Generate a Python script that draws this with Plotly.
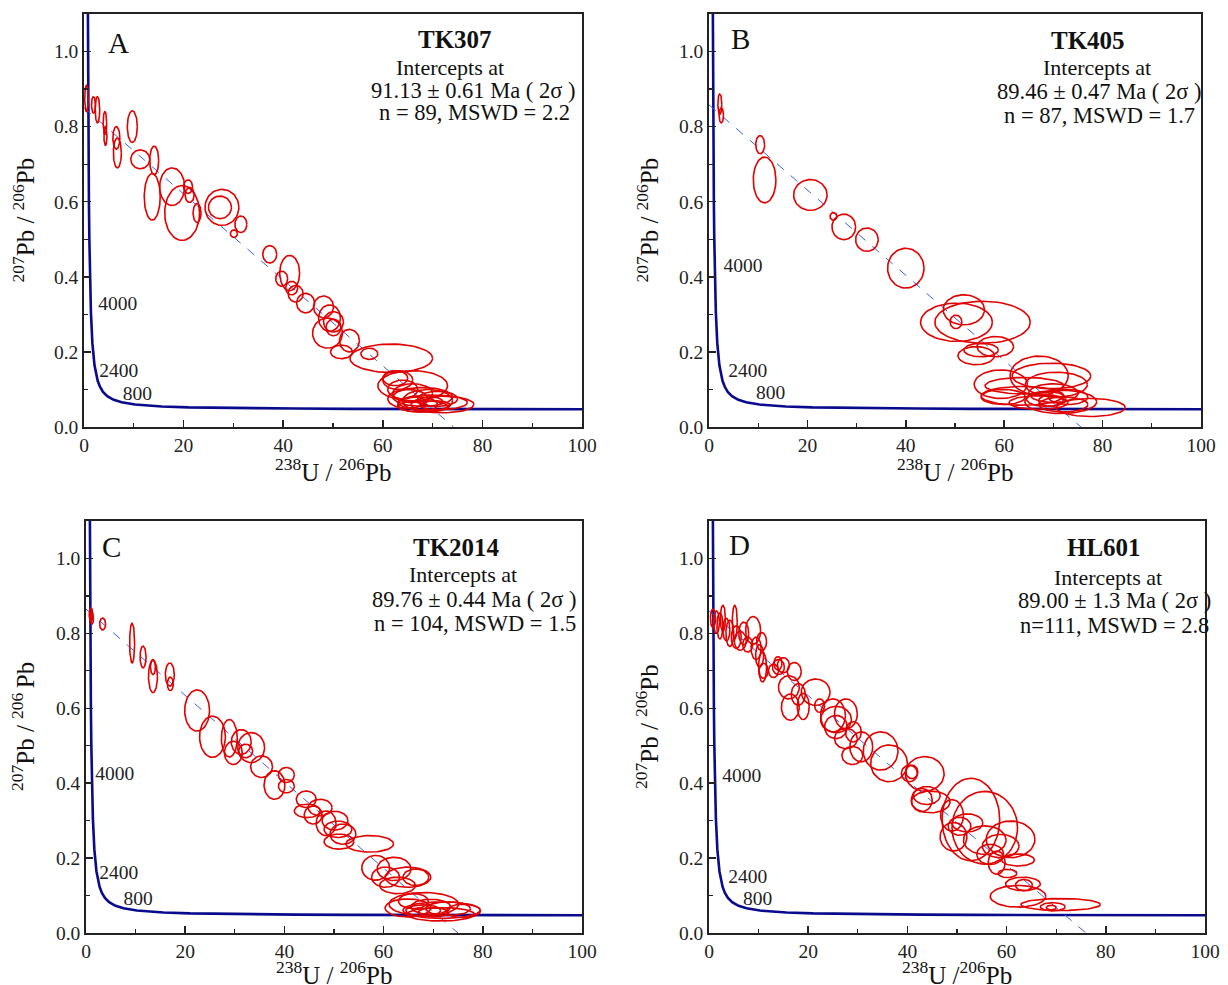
import numpy as np
import plotly.graph_objects as go

W, H = 1228, 985
FONT = "Liberation Serif"

# ---------------- data ----------------
# Tera-Wasserburg concordia (238U/206Pb, 207Pb/206Pb)
conc_x = [0.7424, 0.7628, 0.7841, 0.8062, 0.853, 0.9045, 0.9903, 1.0714, 1.163, 1.2673,
          1.3868, 1.6874, 2.111, 2.7487, 3.2062, 3.8168, 4.6733, 5.9595, 7.568, 10.252,
          15.62, 20.99, 31.735, 42.48, 53.22, 63.97, 80.08, 100.23]
conc_y = [1.207, 1.123, 1.046, 0.9735, 0.845, 0.7347, 0.5967, 0.503, 0.425, 0.360,
          0.3059, 0.2226, 0.1643, 0.1230, 0.1071, 0.0936, 0.0822, 0.0725, 0.0658, 0.0599,
          0.0547, 0.0523, 0.0501, 0.0491, 0.0484, 0.0480, 0.0476, 0.0473]
age_labels = ["4000", "2400", "800"]

# Panel A (TK307): ellipse centres and half-sizes (2 sigma)
a_x = [0.5, 1.9, 2.7, 4.2, 4.3, 6.5, 6.7, 9.7, 11.3, 14.1, 13.7, 17.7, 19.7, 20.9, 21.2, 22.7,
       27.7, 27.3, 31.5, 30.1, 37.3, 41.3, 39.7, 41.7, 42.5, 44.5, 48.1, 49.3, 50.1, 50.1, 48.9,
       53.3, 51.7, 57.3, 61.7, 62.5, 63.0, 66.0, 64.0, 66.0, 65.0, 68.0, 69.0, 70.0, 71.0, 67.0,
       68.0, 72.0, 70.5, 69.5]
a_y = [0.875, 0.858, 0.845, 0.81, 0.775, 0.77, 0.73, 0.80, 0.713, 0.71, 0.613, 0.64, 0.57, 0.64,
       0.618, 0.57, 0.585, 0.585, 0.54, 0.515, 0.46, 0.41, 0.395, 0.37, 0.355, 0.33, 0.32, 0.29,
       0.28, 0.265, 0.25, 0.23, 0.2, 0.195, 0.183, 0.13, 0.125, 0.11, 0.10, 0.09, 0.075, 0.08,
       0.07, 0.065, 0.075, 0.06, 0.055, 0.06, 0.058, 0.068]
a_w = [0.35, 0.4, 0.45, 0.35, 0.3, 0.7, 0.8, 1.0, 1.9, 0.9, 1.6, 2.5, 3.5, 0.9, 0.9, 0.8, 3.4, 2.3,
       1.2, 0.7, 1.4, 2.0, 1.2, 1.2, 1.5, 1.8, 2.0, 2.2, 2.0, 1.5, 3.0, 2.0, 2.2, 1.7, 8.3, 2.5,
       3.0, 7.0, 3.0, 4.0, 4.0, 6.0, 5.0, 7.0, 4.0, 4.0, 5.0, 6.3, 3.0, 2.5]
a_h = [0.035, 0.022, 0.035, 0.03, 0.025, 0.03, 0.04, 0.042, 0.025, 0.038, 0.062, 0.05, 0.073,
       0.018, 0.02, 0.025, 0.048, 0.03, 0.022, 0.01, 0.023, 0.047, 0.02, 0.018, 0.022, 0.026,
       0.029, 0.035, 0.027, 0.022, 0.04, 0.03, 0.018, 0.015, 0.038, 0.02, 0.025, 0.04, 0.025,
       0.025, 0.025, 0.025, 0.03, 0.02, 0.02, 0.02, 0.015, 0.022, 0.012, 0.012]

# Panel B (TK405)
b_x = [2.2, 2.5, 10.4, 11.3, 20.6, 25.3, 27.4, 32.1, 40.0, 51.8, 50.2, 50.3, 55.6, 58.2, 55.3,
       54.3, 67.1, 69.6, 59.3, 64.1, 70.6, 63.7, 77.6, 71.5, 59.8, 68.5, 70.0, 72.0, 67.0, 69.5, 73.0]
b_y = [0.86, 0.83, 0.752, 0.658, 0.618, 0.561, 0.533, 0.499, 0.423, 0.312, 0.28, 0.279, 0.279,
       0.214, 0.205, 0.19, 0.137, 0.136, 0.114, 0.11, 0.113, 0.083, 0.052, 0.067, 0.08, 0.075,
       0.09, 0.06, 0.065, 0.07, 0.08]
b_w = [0.4, 0.45, 0.9, 2.3, 3.4, 0.7, 2.4, 2.3, 3.7, 4.2, 1.2, 7.3, 9.7, 3.7, 3.5, 3.7, 5.9, 8.0,
       5.4, 8.0, 6.3, 8.4, 7.0, 7.3, 4.5, 4.0, 5.0, 5.0, 6.0, 2.5, 4.0]
b_h = [0.027, 0.02, 0.024, 0.061, 0.041, 0.01, 0.034, 0.031, 0.053, 0.04, 0.018, 0.051, 0.056,
       0.027, 0.018, 0.024, 0.052, 0.034, 0.038, 0.022, 0.033, 0.025, 0.024, 0.031, 0.02, 0.02,
       0.025, 0.02, 0.018, 0.015, 0.02]

# Panel C (TK2014)
c_x = [1.0, 1.2, 1.1, 3.35, 9.3, 11.5, 13.5, 13.5, 16.9, 17.0, 22.4, 25.5, 28.9, 29.7, 31.3, 33.3,
       32.2, 35.4, 38.0, 40.4, 40.4, 44.4, 44.6, 47.2, 45.8, 48.4, 50.2, 50.8, 51.8, 51.0, 57.2,
       58.4, 62.1, 60.4, 64.9, 62.8, 66.5, 68.1, 71.7, 64.9, 76.1, 71.5, 66.0, 69.5, 73.0, 70.0, 68.0]
c_y = [0.85, 0.84, 0.846, 0.825, 0.774, 0.737, 0.71, 0.685, 0.69, 0.665, 0.594, 0.524, 0.52,
       0.481, 0.51, 0.495, 0.486, 0.444, 0.395, 0.422, 0.392, 0.357, 0.326, 0.335, 0.315, 0.293,
       0.30, 0.277, 0.264, 0.244, 0.238, 0.174, 0.171, 0.149, 0.149, 0.127, 0.149, 0.077, 0.061,
       0.067, 0.059, 0.05, 0.085, 0.07, 0.065, 0.055, 0.06]
c_w = [0.35, 0.3, 0.2, 0.6, 0.5, 0.6, 0.5, 0.9, 0.9, 0.6, 2.5, 2.6, 1.6, 1.8, 2.0, 2.7, 1.4, 2.2,
       2.1, 1.6, 1.6, 2.0, 2.6, 2.4, 1.8, 2.0, 2.6, 2.8, 2.6, 3.0, 4.8, 2.8, 3.4, 2.8, 4.6, 3.6,
       2.6, 7.0, 7.8, 4.6, 3.4, 6.8, 3.0, 4.0, 4.5, 3.0, 3.5]
c_h = [0.018, 0.015, 0.012, 0.016, 0.053, 0.029, 0.02, 0.043, 0.031, 0.018, 0.055, 0.055, 0.05,
       0.031, 0.033, 0.04, 0.018, 0.029, 0.038, 0.02, 0.018, 0.022, 0.018, 0.022, 0.024, 0.033,
       0.025, 0.022, 0.027, 0.02, 0.022, 0.033, 0.031, 0.027, 0.027, 0.022, 0.022, 0.031, 0.022,
       0.024, 0.018, 0.018, 0.02, 0.02, 0.018, 0.012, 0.015]

# Panel D (HL601)
d_x = [0.8, 1.5, 2.2, 2.8, 3.5, 4.2, 5.2, 5.5, 6.3, 7.0, 7.8, 8.9, 9.5, 10.6, 10.2, 10.8, 11.0,
       13.9, 14.0, 15.0, 13.0, 17.2, 16.1, 16.4, 18.0, 19.0, 21.5, 22.3, 25.0, 25.6, 27.6, 25.6,
       27.6, 29.1, 30.7, 28.9, 34.6, 36.3, 40.4, 40.9, 43.5, 43.9, 44.7, 42.9, 49.0, 52.8, 55.6,
       49.3, 50.5, 52.1, 55.6, 60.8, 58.8, 56.7, 62.3, 58.0, 60.2, 63.3, 63.5, 62.3, 70.9, 69.3, 69.0]
d_y = [0.84, 0.83, 0.82, 0.84, 0.81, 0.80, 0.83, 0.79, 0.78, 0.80, 0.77, 0.808, 0.76, 0.778,
       0.74, 0.71, 0.70, 0.72, 0.71, 0.715, 0.70, 0.698, 0.656, 0.603, 0.637, 0.605, 0.643, 0.607,
       0.581, 0.57, 0.585, 0.55, 0.519, 0.537, 0.497, 0.474, 0.486, 0.453, 0.426, 0.43, 0.425,
       0.367, 0.35, 0.355, 0.314, 0.303, 0.281, 0.257, 0.285, 0.294, 0.248, 0.25, 0.232, 0.21,
       0.195, 0.188, 0.159, 0.131, 0.128, 0.098, 0.076, 0.07, 0.068]
d_w = [0.5, 0.6, 0.6, 0.5, 0.7, 0.8, 0.5, 1.0, 1.2, 1.0, 1.0, 1.5, 1.0, 1.0, 0.8, 0.8, 0.9, 0.8,
       1.2, 1.2, 1.0, 1.4, 2.1, 1.8, 1.4, 1.2, 2.9, 1.0, 2.5, 3.1, 2.3, 2.3, 2.3, 1.6, 2.3, 2.1,
       3.5, 3.7, 1.6, 1.2, 3.9, 2.7, 3.9, 2.1, 2.3, 5.8, 6.6, 2.7, 2.3, 3.1, 4.3, 4.9, 3.7, 2.7,
       3.3, 1.7, 1.9, 3.5, 1.7, 5.6, 8.0, 2.5, 1.0]
d_h = [0.025, 0.03, 0.035, 0.035, 0.03, 0.035, 0.045, 0.03, 0.025, 0.03, 0.02, 0.037, 0.03,
       0.024, 0.03, 0.04, 0.02, 0.018, 0.02, 0.02, 0.018, 0.024, 0.031, 0.035, 0.029, 0.035,
       0.035, 0.018, 0.044, 0.035, 0.04, 0.031, 0.027, 0.027, 0.04, 0.024, 0.051, 0.049, 0.022,
       0.018, 0.046, 0.024, 0.029, 0.031, 0.042, 0.11, 0.097, 0.038, 0.024, 0.024, 0.038, 0.049,
       0.031, 0.027, 0.016, 0.031, 0.011, 0.018, 0.015, 0.029, 0.016, 0.011, 0.006]

# Discordia: 207/206 intercept at x=0 and 238/206 value where it reaches 0
disc_y0 = [0.85, 0.858, 0.865, 0.86]
disc_x0 = [74.2, 75.6, 75.0, 76.0]

samples = ["TK307", "TK405", "TK2014", "HL601"]
letters = ["A", "B", "C", "D"]
ages = ["91.13 ± 0.61 Ma ( 2σ )", "89.46 ± 0.47 Ma ( 2σ )",
        "89.76 ± 0.44 Ma ( 2σ )", "89.00 ± 1.3 Ma ( 2σ )"]
stats = ["n = 89, MSWD = 2.2", "n = 87, MSWD = 1.7", "n = 104, MSWD = 1.5", "n=111, MSWD = 2.8"]
ytitles = ["<sup>207</sup>Pb / <sup>206</sup>Pb", "<sup>207</sup>Pb / <sup>206</sup>Pb",
           "<sup>207</sup>Pb / <sup>206 </sup>Pb", "<sup>207</sup>Pb / <sup>206</sup>Pb"]
xtitles = ["<sup>238</sup>U / <sup>206</sup>Pb", "<sup>238</sup>U / <sup>206</sup>Pb",
           "<sup>238</sup>U / <sup>206</sup>Pb", "<sup>238</sup>U /<sup>206</sup>Pb"]
# age-label positions (data coords) per panel: [4000, 2400, 800]
lab_x = [[6.8, 7.0, 10.7], [6.9, 7.9, 12.5], [5.8, 6.6, 10.5], [6.6, 7.8, 9.8]]
lab_y = [[0.325, 0.147, 0.085], [0.427, 0.147, 0.088], [0.421, 0.157, 0.088], [0.416, 0.147, 0.088]]
x_ticks = [0, 20, 40, 60, 80, 100]
y_ticks = [0.0, 0.2, 0.4, 0.6, 0.8, 1.0]

panels = [(a_x, a_y, a_w, a_h), (b_x, b_y, b_w, b_h), (c_x, c_y, c_w, c_h), (d_x, d_y, d_w, d_h)]

# ---------------- layout geometry (pixels) ----------------
boxes = [(84, 582, 14, 427), (709, 1201, 14, 427), (86, 582, 521, 933), (709, 1205, 521, 933)]
txt_pos = [
    [(455, 39), (450, 67), (473, 90), (474, 113)],
    [(1088, 41), (1097, 68), (1099, 92), (1099, 115)],
    [(456, 547), (463, 574), (474, 599), (475, 623)],
    [(1104, 547), (1108, 577), (1114, 600), (1114, 625)],
]
letter_pos = [(118, 43), (740, 39), (111, 547), (739, 545)]
ytitle_x = [23, 647, 23, 647]


def px(x):
    return x / W


def py(y):
    return 1 - y / H


fig = go.Figure()
t = np.linspace(0, 2 * np.pi, 61)
annotations = []

for i, (ex, ey, ew, eh) in enumerate(panels):
    xa = "x" if i == 0 else f"x{i+1}"
    ya = "y" if i == 0 else f"y{i+1}"
    xs, ys = [], []
    for cx, cy, w, h in zip(ex, ey, ew, eh):
        xs += list(cx + w * np.cos(t)) + [None]
        ys += list(cy + h * np.sin(t)) + [None]
    fig.add_trace(go.Scatter(x=conc_x, y=conc_y, mode="lines", xaxis=xa, yaxis=ya,
                             line=dict(color="#0a0a8c", width=2.6), showlegend=False,
                             hoverinfo="skip"))
    fig.add_trace(go.Scatter(x=[0, disc_x0[i]], y=[disc_y0[i], 0], mode="lines", xaxis=xa,
                             yaxis=ya, line=dict(color="#3a5fe8", width=1, dash="dash"),
                             showlegend=False, hoverinfo="skip"))
    fig.add_trace(go.Scatter(x=xs, y=ys, mode="lines", xaxis=xa, yaxis=ya,
                             line=dict(color="#e00000", width=1.6), showlegend=False,
                             hoverinfo="skip"))
    fig.add_trace(go.Scatter(x=lab_x[i], y=lab_y[i], text=age_labels, mode="text",
                             xaxis=xa, yaxis=ya, textposition="middle center",
                             textfont=dict(family=FONT, size=19.5, color="#222"),
                             showlegend=False, hoverinfo="skip"))

    l, r, tp, bt = boxes[i]
    axis_common = dict(showline=True, linecolor="#222", linewidth=1.8, mirror=True,
                       showgrid=False, zeroline=False, ticks="inside", ticklen=7,
                       tickwidth=1.5, tickcolor="#222", automargin=False,
                       tickfont=dict(family=FONT, size=19.5, color="#222"))
    fig.update_layout(**{
        ("xaxis" if i == 0 else f"xaxis{i+1}"): dict(
            domain=[px(l), px(r)], range=[0, 100], anchor=ya, tickvals=x_ticks,
            minor=dict(ticks="inside", ticklen=4, tickwidth=1.2, tickcolor="#222", dtick=10),
            **axis_common),
        ("yaxis" if i == 0 else f"yaxis{i+1}"): dict(
            domain=[py(bt), py(tp)], range=[0, 1.1], anchor=xa, tickvals=y_ticks,
            tickformat=".1f",
            minor=dict(ticks="inside", ticklen=4, tickwidth=1.2, tickcolor="#222", dtick=0.1),
            **axis_common),
    })

    lines = [(f"<b>{samples[i]}</b>", 25), ("Intercepts at", 22), (ages[i], 22.5),
             (stats[i], 22.5)]
    for (txt, sz), (ax_, ay_) in zip(lines, txt_pos[i]):
        annotations.append(dict(x=px(ax_), y=py(ay_), xref="paper", yref="paper", text=txt,
                                showarrow=False, xanchor="center", yanchor="middle",
                                font=dict(family=FONT, size=sz, color="#111")))
    lx, ly = letter_pos[i]
    annotations.append(dict(x=px(lx), y=py(ly), xref="paper", yref="paper", text=letters[i],
                            showarrow=False, xanchor="center", yanchor="middle",
                            font=dict(family=FONT, size=29, color="#111")))
    annotations.append(dict(x=px(ytitle_x[i]), y=py((tp + bt) / 2), xref="paper", yref="paper",
                            text=ytitles[i], textangle=-90, showarrow=False,
                            xanchor="center", yanchor="middle",
                            font=dict(family=FONT, size=25, color="#111")))
    annotations.append(dict(x=px((l + r) / 2), y=py(bt + (43 if i < 2 else 40)), xref="paper",
                            yref="paper", text=xtitles[i], showarrow=False, xanchor="center",
                            yanchor="middle", font=dict(family=FONT, size=25, color="#111")))

fig.update_layout(template="none", width=W, height=H, autosize=False,
                  margin=dict(l=0, r=0, t=0, b=0, autoexpand=False),
                  paper_bgcolor="white", plot_bgcolor="white", annotations=annotations,
                  showlegend=False)

fig.write_html("out.html", config={"displayModeBar": False, "staticPlot": True},
               post_script="document.body.style.margin='0px';document.body.style.overflow='hidden';")
